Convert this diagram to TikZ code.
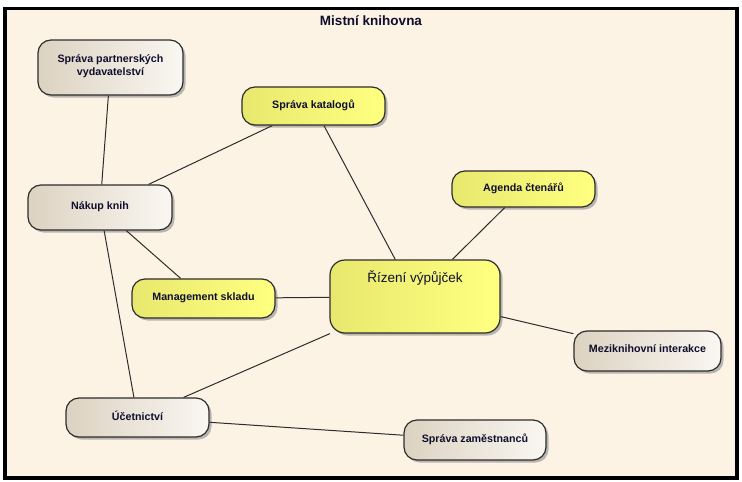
\documentclass[tikz,border=0pt]{standalone}
\usepackage{fontspec}
\setmainfont{Liberation Sans}
\usetikzlibrary{shadows}
\definecolor{bgbeige}{RGB}{252,243,228}
\definecolor{ylwL}{RGB}{232,232,110}
\definecolor{ylwR}{RGB}{255,255,128}
\definecolor{gryL}{RGB}{220,210,193}
\definecolor{gryR}{RGB}{250,247,242}
\definecolor{edgecol}{RGB}{45,45,45}
\definecolor{txtcol}{RGB}{15,15,45}
\tikzset{
  box/.style={draw=edgecol, line width=1.2pt, rounded corners=13pt,
    minimum height=39pt, minimum width=143pt, inner sep=0pt,
    align=center, text=txtcol, text depth=4pt,
    font=\fontsize{10.7}{13}\selectfont\bfseries,
    drop shadow={shadow xshift=2.5pt, shadow yshift=-2.5pt, fill=black!45, opacity=0.6}},
  ybox/.style={box, left color=ylwL, right color=ylwR},
  gbox/.style={box, left color=gryL, right color=gryR},
  conn/.style={draw=edgecol, line width=1pt}
}
\begin{document}
\begin{tikzpicture}[x=1pt,y=-1pt]
\useasboundingbox (0,0) rectangle (742,482);
\fill[white] (0,0) rectangle (742,482);
\draw[fill=bgbeige, line width=3.5pt] (5,8.5) rectangle (737,478);
\node[font=\fontsize{13.5}{15}\selectfont\bfseries, text=txtcol] (title) at (371,21) {Mistní knihovna};

\node[gbox, minimum width=145pt, minimum height=55pt] (partner) at (110.5,67.5) {Správa partnerských\\vydavatelství};
\node[gbox, minimum width=144pt, minimum height=45pt] (nakup) at (100,207.5) {Nákup knih};
\node[ybox, minimum height=38pt] (katalog) at (313.5,106) {Správa katalogů};
\node[ybox, minimum height=36pt] (agenda) at (523.5,189) {Agenda čtenářů};
\node[ybox] (sklad) at (203.5,298.5) {Management skladu};
\node[ybox, minimum width=170pt, minimum height=73pt, rounded corners=15pt] (rizeni) at (415,296.5) {};
\node[font=\fontsize{13.5}{15}\selectfont, text=txtcol] (rizenitext) at ([yshift=-18.5pt]rizeni.north) {Řízení výpůjček};
\node[gbox, minimum width=147pt, minimum height=40pt] (mezi) at (647.5,351) {Meziknihovní interakce};
\node[gbox] (ucet) at (137.5,417.5) {Účetnictví};
\node[gbox, minimum width=142pt, minimum height=40pt] (zam) at (475,440) {Správa zaměstnanců};

\path[conn] (partner) -- (nakup);
\path[conn] (katalog) -- (nakup);
\path[conn] (katalog) -- (rizeni);
\path[conn] (agenda) -- (rizeni);
\path[conn] (nakup) -- (sklad);
\path[conn] (nakup) -- (ucet);
\path[conn] (sklad) -- (rizeni);
\path[conn] (rizeni) -- (ucet);
\path[conn] (rizeni) -- (mezi);
\path[conn] (ucet) -- (zam);
\end{tikzpicture}
\end{document}
